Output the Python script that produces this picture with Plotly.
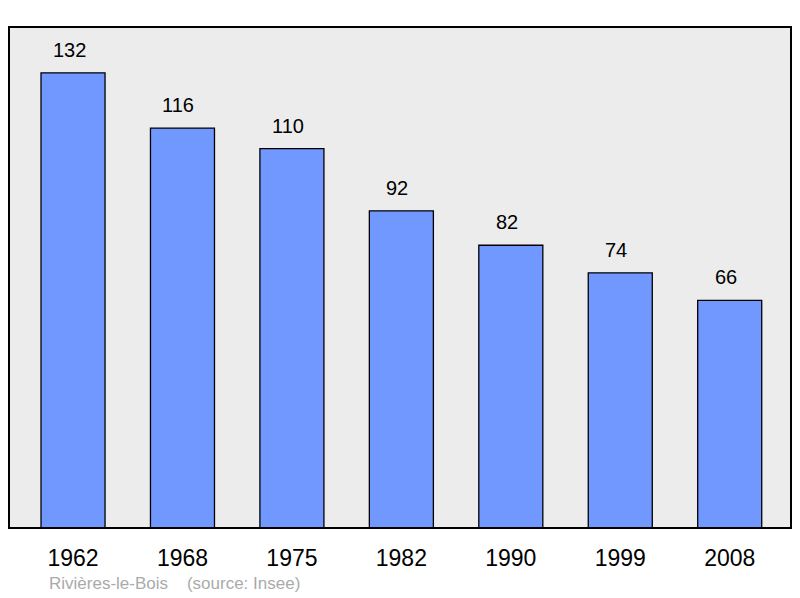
import plotly.graph_objects as go

years = ["1962", "1968", "1975", "1982", "1990", "1999", "2008"]
population = [132, 116, 110, 92, 82, 74, 66]
source_text = "Rivières-le-Bois    (source: Insee)"

fig = go.Figure()
fig.add_trace(go.Bar(
    x=list(range(len(years))), y=population,
    width=0.585,
    marker=dict(color="#7098ff", line=dict(color="#000000", width=1.3)),
    hoverinfo="skip",
))

for i, v in enumerate(population):
    fig.add_annotation(x=i, y=v, text=str(v), showarrow=False,
                       yanchor="bottom", yshift=10, xshift=-4,
                       font=dict(family="Liberation Sans, Arial", size=20, color="#000"))

fig.add_annotation(xref="paper", yref="paper", x=0.049, y=-0.11, xanchor="left", yanchor="middle",
                   text=source_text, showarrow=False,
                   font=dict(family="Liberation Sans, Arial", size=17, color="#aaaaaa"))

fig.add_shape(type="rect", xref="paper", yref="paper", x0=0, x1=1, y0=0, y1=1,
              line=dict(color="#000", width=2), layer="above")

fig.update_layout(
    width=784, height=590,
    margin=dict(l=1, r=1, t=19, b=70),
    paper_bgcolor="#ffffff", plot_bgcolor="#ececec",
    showlegend=False,
    xaxis=dict(range=[-0.585, 6.56], tickmode="array", tickvals=list(range(len(years))),
               ticktext=years, showgrid=False, zeroline=False,
               ticks="outside", ticklen=9, tickcolor="rgba(0,0,0,0)",
               tickfont=dict(family="Liberation Sans, Arial", size=23, color="#000")),
    yaxis=dict(range=[0, 145.3], showgrid=False, zeroline=False, showticklabels=False),
)

fig.write_html("out.html")
